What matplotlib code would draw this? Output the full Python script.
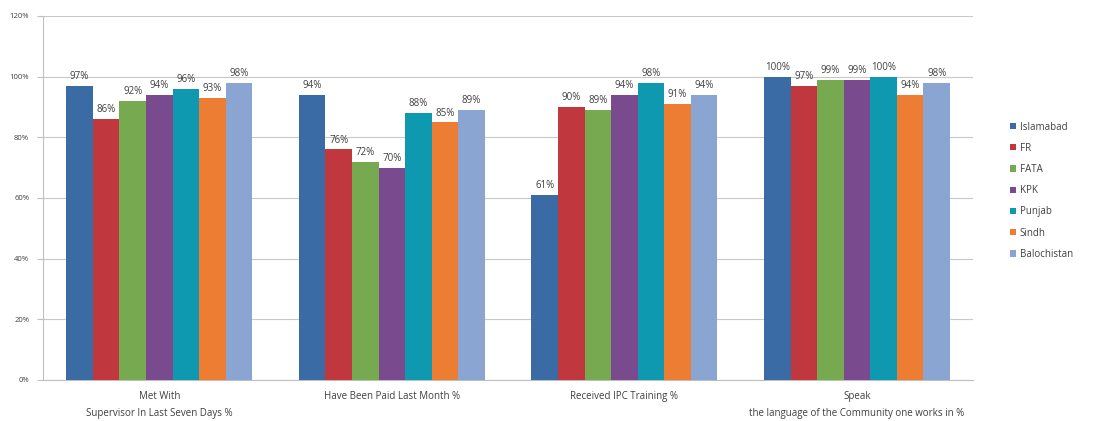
import numpy as np
import matplotlib
matplotlib.use('Agg')
import matplotlib.pyplot as plt

# Data
categories = ['Met With\nSupervisor In Last Seven Days %',
              'Have Been Paid Last Month %',
              'Received IPC Training %',
              'Speak\nthe language of the Community one works in %']
regions = ['Islamabad', 'FR', 'FATA', 'KPK', 'Punjab', 'Sindh', 'Balochistan']
islamabad = [97, 94, 61, 100]
fr = [86, 76, 90, 97]
fata = [92, 72, 89, 99]
kpk = [94, 70, 94, 99]
punjab = [96, 88, 98, 100]
sindh = [93, 85, 91, 94]
balochistan = [98, 89, 94, 98]
yticks = [0, 20, 40, 60, 80, 100, 120]

series = [islamabad, fr, fata, kpk, punjab, sindh, balochistan]
colors = ['#3B6BA5', '#C0373D', '#77A950', '#7A4A8E', '#0E99B0', '#EE7D34', '#8AA5D2']

plt.rcParams['font.family'] = ['Open Sans', 'DejaVu Sans']

fig = plt.figure(figsize=(11.11, 4.21), dpi=100)
ax = fig.add_axes([0.0387, 0.0974, 0.8373, 0.8646])

x = np.arange(len(categories))
n = len(series)
bw = 0.8 / n
for i, (vals, col, name) in enumerate(zip(series, colors, regions)):
    pos = x - 0.4 + bw * (i + 0.5)
    bars = ax.bar(pos, vals, width=bw, color=col, label=name, zorder=3)
    for b, v in zip(bars, vals):
        ax.text(b.get_x() + b.get_width() / 2, v + 1.2, f'{v}%',
                ha='center', va='bottom', fontsize=7, color='#404040', zorder=4)

ax.set_xlim(-0.5, len(categories) - 0.5)
ax.set_ylim(0, 120)
ax.set_yticks(yticks)
ax.set_yticklabels([f'{t}%' for t in yticks], fontsize=5.5, color='#404040')
ax.set_xticks(x)
ax.set_xticklabels(categories, fontsize=7, color='#404040', linespacing=1.7)
ax.tick_params(axis='x', length=0, pad=8)
ax.tick_params(axis='y', length=4, color='#BFBFBF', pad=6)
ax.grid(axis='y', color='#C8C8C8', linewidth=0.8, zorder=0)
for s in ['top', 'right']:
    ax.spines[s].set_visible(False)
ax.spines['left'].set_color('#BFBFBF')
ax.spines['bottom'].set_color('#BFBFBF')

ax.legend(loc='center left', bbox_to_anchor=(1.03, 0.52), frameon=False,
          fontsize=7, handlelength=0.6, handleheight=0.6, labelspacing=1.05,
          handletextpad=0.4, labelcolor='#404040')

plt.savefig('out.png', dpi=100)
